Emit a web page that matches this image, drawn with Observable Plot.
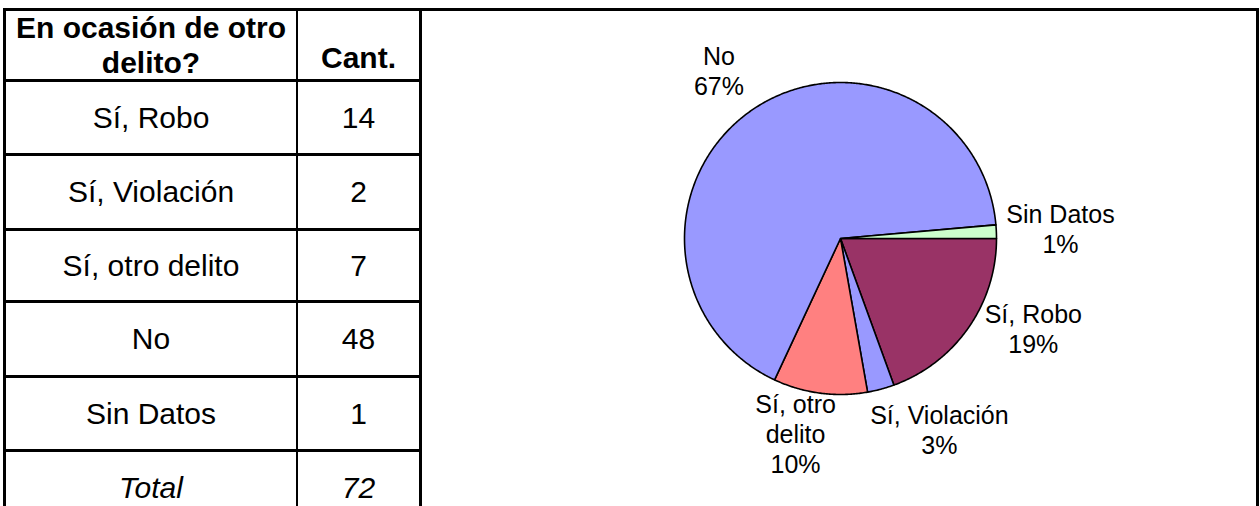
<!DOCTYPE html>
<html>
<head>
<meta charset="utf-8">
<script src="https://cdn.jsdelivr.net/npm/d3@7"></script>
<script src="https://cdn.jsdelivr.net/npm/@observablehq/plot@0.6"></script>
<style>
html, body { margin: 0; padding: 0; background: #fff; }
#page { position: relative; width: 1260px; height: 506px; overflow: hidden;
  font-family: "Liberation Sans", Arial, sans-serif; color: #000; }
.ln { position: absolute; background: #000; }
.cell { position: absolute; display: flex; align-items: center; justify-content: center;
  text-align: center; font-size: 30px; white-space: nowrap; }
#chart { position: absolute; left: 422px; top: 11px; }
</style>
</head>
<body>
<div id="page"><div id="chart"></div></div>
<script>
// ---- data ----
const headerLabel = ["En ocasión de otro", "delito?"];
const headerCount = "Cant.";
const categories = ["Sí, Robo", "Sí, Violación", "Sí, otro delito", "No", "Sin Datos"];
const counts = [14, 2, 7, 48, 1];
const totalLabel = "Total";
const pieLabelText = ["Sí, Robo", "Sí, Violación", "Sí, otro\ndelito", "No", "Sin Datos"];

// ---- styles / layout ----
const sliceColors = ["#993366", "#9999FF", "#FF8080", "#9999FF", "#CCFFCC"];
const labelNudge = [[17, -23], [38, 2], [-18, -14], [-12, -8], [0, -2]];

const total = d3.sum(counts);
const page = document.getElementById("page");

function line(x, y, w, h) {
  const d = document.createElement("div");
  d.className = "ln";
  Object.assign(d.style, {left: x + "px", top: y + "px", width: w + "px", height: h + "px"});
  page.appendChild(d);
}
function cell(x, y, w, h, html, extra) {
  const d = document.createElement("div");
  d.className = "cell";
  Object.assign(d.style, {left: x + "px", top: y + "px", width: w + "px", height: h + "px"}, extra || {});
  d.innerHTML = html;
  page.appendChild(d);
}

// grid lines
const rowLines = [79, 153, 228, 300, 375, 449];
line(3, 8, 1256, 3);            // top border
line(3, 8, 3, 498);             // table left
line(296, 8, 2, 498);           // column divider
line(419, 8, 3, 498);           // table right
line(1256, 8, 3, 498);          // chart right
rowLines.forEach(y => line(3, y, 419, 3));

const colX = [6, 298], colW = [290, 121];
// header
cell(colX[0], 11, colW[0], 68, headerLabel.join("<br>"), {fontWeight: "bold", lineHeight: "35px"});
cell(colX[1], 11, colW[1], 68, headerCount, {fontWeight: "bold", alignItems: "flex-end", paddingBottom: "0px", height: "64px"});
// body rows
const rows = categories.map((c, i) => ({label: c, value: String(counts[i]), italic: false}));
rows.push({label: totalLabel, value: String(total), italic: true});
rows.forEach((r, i) => {
  const top = rowLines[i] + 3;
  const bottom = i + 1 < rowLines.length ? rowLines[i + 1] : rowLines[i] + 74;
  const h = bottom - top;
  const st = r.italic ? {fontStyle: "italic"} : {};
  cell(colX[0], top, colW[0], h, r.label, st);
  cell(colX[1], top, colW[1], h, r.value, st);
});

// ---- pie ----
const W = 834, H = 495, cx = 418, cy = 227, R = 156;
const arcs = d3.pie().sort(null).value(d => d)
  .startAngle(Math.PI / 2).endAngle(Math.PI / 2 + 2 * Math.PI)(counts);

const slicePts = [];
arcs.forEach((a, i) => {
  const n = Math.max(2, Math.ceil((a.endAngle - a.startAngle) / (Math.PI / 360)));
  slicePts.push({k: i, cat: categories[i], x: 0, y: 0});
  for (let j = 0; j <= n; j++) {
    const t = a.startAngle + (a.endAngle - a.startAngle) * j / n;
    slicePts.push({k: i, cat: categories[i], x: R * Math.sin(t), y: -R * Math.cos(t)});
  }
});

const ctx = document.createElement("canvas").getContext("2d");
ctx.font = "25px 'Liberation Sans', Arial, sans-serif";
const labels = arcs.map((a, i) => {
  const m = (a.startAngle + a.endAngle) / 2;
  const dx = Math.sin(m), dy = -Math.cos(m);
  const text = pieLabelText[i] + "\n" + Math.round(100 * counts[i] / total) + "%";
  const ls = text.split("\n");
  const w = d3.max(ls, s => ctx.measureText(s).width);
  const h = ls.length * 30;
  return {
    text,
    x: (R + 10) * dx + (w / 2) * dx + labelNudge[i][0],
    y: (R + 10) * dy + (h / 2) * dy + labelNudge[i][1]
  };
});

const chart = Plot.plot({
  width: W, height: H, margin: 0,
  x: {type: "linear", domain: [-cx, W - cx], range: [0, W], axis: null},
  y: {type: "linear", domain: [-cy, H - cy], range: [0, H], axis: null},
  color: {domain: categories, range: sliceColors},
  style: {fontFamily: "'Liberation Sans', Arial, sans-serif", background: "transparent", overflow: "visible"},
  marks: [
    Plot.line(slicePts, {x: "x", y: "y", z: "k", fill: "cat", stroke: "#000", strokeWidth: 1.6,
      strokeLinejoin: "round", curve: "linear-closed"}),
    Plot.text(labels, {x: "x", y: "y", text: "text", fontSize: 25, lineHeight: 1.2,
      fill: "#000", textAnchor: "middle", lineAnchor: "middle"})
  ]
});
document.getElementById("chart").appendChild(chart);
</script>
</body>
</html>
